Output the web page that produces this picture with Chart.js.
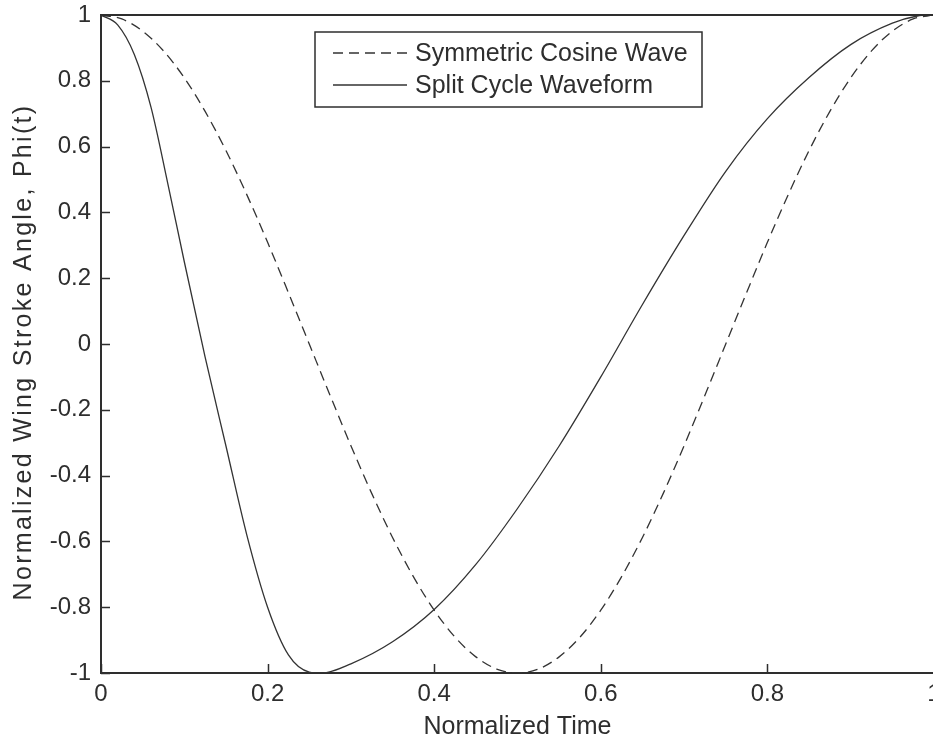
<!DOCTYPE html>
<html>
<head>
<meta charset="utf-8">
<script src="https://cdn.jsdelivr.net/npm/chart.js@4/dist/chart.umd.min.js"></script>
<style>
  html, body { margin: 0; padding: 0; background: #fff; }
  #wrap { width: 933px; height: 744px; overflow: hidden; position: relative; }
  canvas { display: block; }
</style>
</head>
<body>
<div id="wrap"><canvas id="c" width="960" height="744"></canvas></div>
<script>
// Normalized time samples and stroke angle for the symmetric cosine wave
const cosineTime = [0, 0.025, 0.05, 0.075, 0.1, 0.125, 0.15, 0.175, 0.2, 0.225, 0.25,
  0.275, 0.3, 0.325, 0.35, 0.375, 0.4, 0.425, 0.45, 0.475, 0.5,
  0.525, 0.55, 0.575, 0.6, 0.625, 0.65, 0.675, 0.7, 0.725, 0.75,
  0.775, 0.8, 0.825, 0.85, 0.875, 0.9, 0.925, 0.95, 0.975, 1];
const cosineAngle = [1, 0.988, 0.951, 0.891, 0.809, 0.707, 0.588, 0.454, 0.309, 0.156, 0,
  -0.156, -0.309, -0.454, -0.588, -0.707, -0.809, -0.891, -0.951, -0.988, -1,
  -0.988, -0.951, -0.891, -0.809, -0.707, -0.588, -0.454, -0.309, -0.156, 0,
  0.156, 0.309, 0.454, 0.588, 0.707, 0.809, 0.891, 0.951, 0.988, 1];

// Split cycle waveform: fast downstroke, slow upstroke
const splitTime = [0, 0.02, 0.04, 0.06, 0.08, 0.1, 0.125, 0.15, 0.175, 0.2, 0.225, 0.25, 0.265,
  0.3, 0.35, 0.4, 0.45, 0.5, 0.55, 0.6, 0.65, 0.7, 0.75, 0.8, 0.85, 0.9, 0.95, 0.98, 1];
const splitAngle = [1, 0.97, 0.88, 0.72, 0.49, 0.25, -0.04, -0.31, -0.58, -0.8, -0.945, -0.997, -1,
  -0.972, -0.905, -0.807, -0.67, -0.5, -0.31, -0.1, 0.12, 0.33, 0.525, 0.685, 0.81, 0.91, 0.975, 0.997, 1];

const seriesNames = ['Symmetric Cosine Wave', 'Split Cycle Waveform'];
const xTickLabels = ['0', '0.2', '0.4', '0.6', '0.8', '1'];
const yTickLabels = ['-1', '-0.8', '-0.6', '-0.4', '-0.2', '0', '0.2', '0.4', '0.6', '0.8', '1'];
const xTitle = 'Normalized Time';
const yTitle = 'Normalized Wing Stroke Angle, Phi(t)';

const FONT = "'Liberation Sans', Arial, sans-serif";
const INK = '#2e2e2e';
const LINE = '#333333';
const DASH = [10, 6];

const toPoints = (xs, ys) => xs.map((x, i) => ({ x, y: ys[i] }));

// Inward tick marks on the bottom and left axes, plus the top and right frame lines
const frameTicks = {
  id: 'frameTicks',
  afterDraw(chart) {
    const { ctx, chartArea: a, scales } = chart;
    ctx.save();
    ctx.strokeStyle = INK;
    ctx.lineWidth = 1.5;
    ctx.beginPath();
    scales.x.ticks.forEach(t => {
      const px = Math.round(scales.x.getPixelForValue(t.value)) + 0.5;
      ctx.moveTo(px, a.bottom);
      ctx.lineTo(px, a.bottom - 9);
    });
    scales.y.ticks.forEach(t => {
      const py = Math.round(scales.y.getPixelForValue(t.value)) + 0.5;
      ctx.moveTo(a.left, py);
      ctx.lineTo(a.left + 9, py);
    });
    ctx.stroke();
    ctx.lineWidth = 2;
    ctx.beginPath();
    ctx.moveTo(a.left - 1, a.top);
    ctx.lineTo(a.right + 1, a.top);
    ctx.moveTo(a.right, a.top);
    ctx.lineTo(a.right, a.bottom);
    ctx.stroke();
    ctx.restore();
  }
};

// Rotated y-axis title, set with a little extra letter spacing
const yAxisTitle = {
  id: 'yAxisTitle',
  afterDraw(chart) {
    const { ctx, chartArea: a } = chart;
    ctx.save();
    ctx.font = '25px ' + FONT;
    ctx.fillStyle = INK;
    ctx.textAlign = 'center';
    ctx.textBaseline = 'middle';
    ctx.translate(24, (a.top + a.bottom) / 2 + 8);
    ctx.rotate(-Math.PI / 2);
    if ('letterSpacing' in ctx) {
      ctx.letterSpacing = '2.3px';
      ctx.fillText(yTitle, 0, 0);
    } else {
      ctx.scale(1.19, 1);
      ctx.fillText(yTitle, 0, 0);
    }
    ctx.restore();
  }
};

// Boxed legend inside the plot area
const boxLegend = {
  id: 'boxLegend',
  afterDraw(chart) {
    const { ctx, chartArea: a } = chart;
    const left = a.left + 214, top = a.top + 17, w = 387, h = 75;
    ctx.save();
    ctx.fillStyle = '#fff';
    ctx.fillRect(left, top, w, h);
    ctx.strokeStyle = INK;
    ctx.lineWidth = 1.5;
    ctx.strokeRect(left, top, w, h);
    ctx.font = '25px ' + FONT;
    ctx.textBaseline = 'middle';
    ctx.fillStyle = INK;
    chart.data.datasets.forEach((ds, i) => {
      const y = top + 21 + i * 32;
      ctx.strokeStyle = ds.borderColor;
      ctx.lineWidth = ds.borderWidth;
      ctx.setLineDash(ds.borderDash || []);
      ctx.beginPath();
      ctx.moveTo(left + 18, y);
      ctx.lineTo(left + 92, y);
      ctx.stroke();
      ctx.setLineDash([]);
      ctx.fillText(ds.label, left + 100, y + 1);
    });
    ctx.restore();
  }
};

new Chart(document.getElementById('c'), {
  type: 'line',
  data: {
    datasets: [
      {
        label: seriesNames[0],
        data: toPoints(cosineTime, cosineAngle),
        borderColor: LINE,
        borderWidth: 1.3,
        borderDash: DASH,
        pointRadius: 0,
        cubicInterpolationMode: 'monotone',
        fill: false
      },
      {
        label: seriesNames[1],
        data: toPoints(splitTime, splitAngle),
        borderColor: LINE,
        borderWidth: 1.3,
        pointRadius: 0,
        cubicInterpolationMode: 'monotone',
        fill: false
      }
    ]
  },
  options: {
    responsive: false,
    animation: false,
    devicePixelRatio: 1,
    layout: { padding: { top: 15, right: 26, left: 0, bottom: 0 } },
    plugins: { legend: { display: false }, tooltip: { enabled: false } },
    scales: {
      x: {
        type: 'linear',
        min: 0, max: 1,
        afterFit(s) { s.height = 71; s.paddingLeft = 0; s.paddingRight = 0; },
        ticks: {
          stepSize: 0.2,
          maxRotation: 0,
          padding: 7,
          color: INK,
          font: { family: FONT, size: 24 },
          callback: (v, i) => xTickLabels[i]
        },
        grid: { display: false, drawTicks: false },
        border: { display: true, color: INK, width: 2 },
        title: {
          display: true,
          text: xTitle,
          color: INK,
          font: { family: FONT, size: 25 },
          padding: { top: 0, bottom: 2 }
        }
      },
      y: {
        type: 'linear',
        min: -1, max: 1,
        afterFit(s) { s.width = 101; s.paddingTop = 0; s.paddingBottom = 0; },
        ticks: {
          stepSize: 0.2,
          padding: 10,
          color: INK,
          font: { family: FONT, size: 24 },
          callback: (v, i) => yTickLabels[i]
        },
        grid: { display: false, drawTicks: false },
        border: { display: true, color: INK, width: 2 },
        title: { display: false }
      }
    }
  },
  plugins: [frameTicks, yAxisTitle, boxLegend]
});
</script>
</body>
</html>
